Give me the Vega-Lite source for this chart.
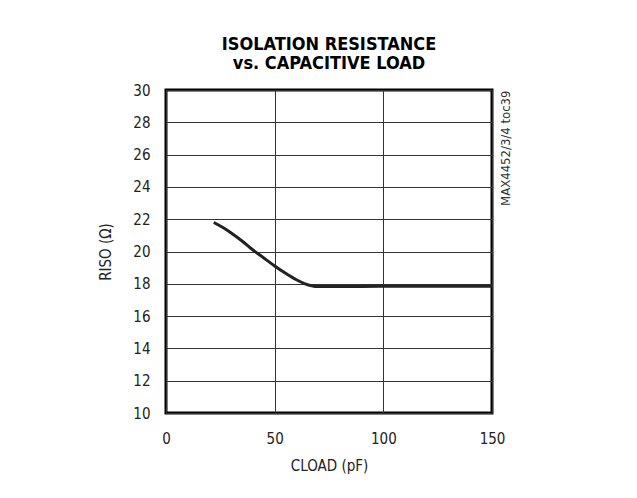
{
  "$schema": "https://vega.github.io/schema/vega-lite/v6.json",
  "autosize": "none",
  "width": 326,
  "height": 323,
  "padding": {"left": 166, "top": 90, "right": 145, "bottom": 85},
  "background": "white",
  "title": {
    "text": ["ISOLATION RESISTANCE", "vs. CAPACITIVE LOAD"],
    "font": "DejaVu Sans Condensed, Roboto, sans-serif",
    "fontSize": 18,
    "fontWeight": "bold",
    "color": "black",
    "anchor": "middle",
    "offset": 10,
    "lineHeight": 19
  },
  "config": {
    "view": {"stroke": "black", "strokeWidth": 3},
    "axis": {
      "labelFont": "DejaVu Sans Condensed, Roboto, sans-serif",
      "titleFont": "DejaVu Sans Condensed, Roboto, sans-serif",
      "labelFontSize": 15,
      "titleFontSize": 15,
      "labelColor": "#222",
      "titleColor": "#222",
      "titleFontWeight": "normal",
      "gridColor": "#333",
      "gridOpacity": 1,
      "gridWidth": 1,
      "domain": false,
      "ticks": false,
      "labelFlush": false
    }
  },
  "data": {
    "values": [
      {"c": 22, "r": 21.8},
      {"c": 26, "r": 21.5},
      {"c": 30, "r": 21.15},
      {"c": 35, "r": 20.65},
      {"c": 39, "r": 20.2},
      {"c": 45, "r": 19.6},
      {"c": 50, "r": 19.1},
      {"c": 55, "r": 18.65},
      {"c": 60, "r": 18.25},
      {"c": 64, "r": 18.0},
      {"c": 67, "r": 17.88},
      {"c": 70, "r": 17.83},
      {"c": 80, "r": 17.83},
      {"c": 100, "r": 17.85},
      {"c": 150, "r": 17.85}
    ]
  },
  "layer": [
    {
      "mark": {"type": "line", "color": "#222", "strokeWidth": 3, "interpolate": "monotone"},
      "encoding": {
        "x": {
          "field": "c", "type": "quantitative",
          "scale": {"domain": [0, 150], "nice": false},
          "axis": {"values": [0, 50, 100, 150], "title": "CLOAD (pF)", "labelPadding": 18, "titlePadding": 12, "labelFlush": false}
        },
        "y": {
          "field": "r", "type": "quantitative",
          "scale": {"domain": [10, 30], "nice": false, "zero": false},
          "axis": {"values": [10, 12, 14, 16, 18, 20, 22, 24, 26, 28, 30], "title": "RISO (Ω)", "labelPadding": 16, "titlePadding": 19}
        }
      }
    },
    {
      "mark": {"type": "line", "opacity": 0},
      "encoding": {
        "x": {"field": "c", "type": "quantitative"},
        "y": {
          "field": "r", "type": "quantitative",
          "axis": {"orient": "right", "grid": false, "labels": false, "title": "MAX4452/3/4 toc39", "titleAngle": 270, "titleAnchor": "end", "titleAlign": "right", "titleFontSize": 13, "titlePadding": 20, "titleColor": "#333", "titleFont": "DejaVu Sans Condensed, Roboto, sans-serif"}
        }
      }
    }
  ],
  "resolve": {"axis": {"y": "independent"}}
}
